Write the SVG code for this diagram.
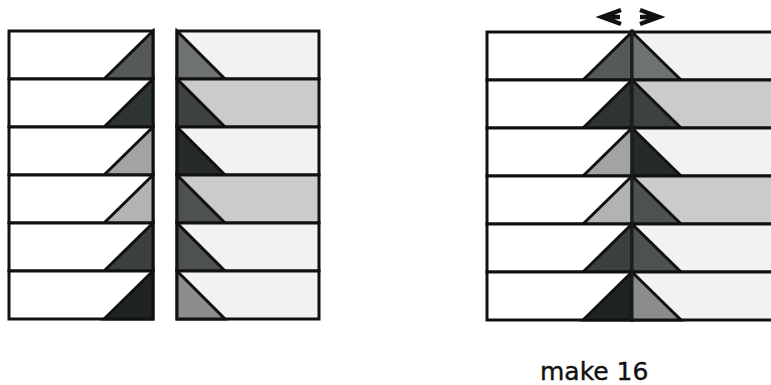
<svg xmlns="http://www.w3.org/2000/svg" width="771" height="385" viewBox="0 0 771 385">
<style>
.o{stroke:#111;stroke-width:3;stroke-linejoin:miter}
.w{fill:#fff}.lt{fill:#f2f2f2}.gy{fill:#cbcbcb}
.c1{fill:#555a57}.c2{fill:#2e3431}.c3{fill:#a3a3a3}.c4{fill:#b3b3b3}.c5{fill:#3b403d}.c6{fill:#1f2421}
.d1{fill:#6e7270}.d2{fill:#3d4240}.d3{fill:#262b28}.d4{fill:#4d5250}.d5{fill:#4d5250}.d6{fill:#8c8c8c}
.arr{fill:none;stroke:#111;stroke-width:4.5;stroke-linecap:butt;stroke-linejoin:miter}
text{font-family:"DejaVu Sans",sans-serif;font-size:25px;fill:#111;stroke:#111;stroke-width:0.4}
</style>
<rect width="771" height="385" fill="#fff"/>
<g id="left-pieces">
<g class="o">
<rect class="w" x="9" y="31" width="144" height="48"/><polygon class="c1" points="104,79 153,31 153,79"/>
<rect class="w" x="9" y="79" width="144" height="48"/><polygon class="c2" points="104,127 153,79 153,127"/>
<rect class="w" x="9" y="127" width="144" height="48"/><polygon class="c3" points="104,175 153,127 153,175"/>
<rect class="w" x="9" y="175" width="144" height="48"/><polygon class="c4" points="104,223 153,175 153,223"/>
<rect class="w" x="9" y="223" width="144" height="48"/><polygon class="c5" points="104,271 153,223 153,271"/>
<rect class="w" x="9" y="271" width="144" height="48"/><polygon class="c6" points="104,319 153,271 153,319"/>
</g>
</g>
<g id="right-pieces">
<g class="o">
<rect class="lt" x="177" y="31" width="142" height="48"/><polygon class="d1" points="177,31 225,79 177,79"/>
<rect class="gy" x="177" y="79" width="142" height="48"/><polygon class="d2" points="177,79 225,127 177,127"/>
<rect class="lt" x="177" y="127" width="142" height="48"/><polygon class="d3" points="177,127 225,175 177,175"/>
<rect class="gy" x="177" y="175" width="142" height="48"/><polygon class="d4" points="177,175 225,223 177,223"/>
<rect class="lt" x="177" y="223" width="142" height="48"/><polygon class="d5" points="177,223 225,271 177,271"/>
<rect class="lt" x="177" y="271" width="142" height="48"/><polygon class="d6" points="177,271 225,319 177,319"/>
</g>
</g>
<g id="joined-units">
<g class="o">
<rect class="w" x="487" y="32" width="145" height="48"/><rect class="lt" x="632" y="32" width="145" height="48"/>
<polygon class="c1" points="583,80 632,32 632,80"/><polygon class="d1" points="632,32 681,80 632,80"/>
<rect class="w" x="487" y="80" width="145" height="48"/><rect class="gy" x="632" y="80" width="145" height="48"/>
<polygon class="c2" points="583,128 632,80 632,128"/><polygon class="d2" points="632,80 681,128 632,128"/>
<rect class="w" x="487" y="128" width="145" height="48"/><rect class="lt" x="632" y="128" width="145" height="48"/>
<polygon class="c3" points="583,176 632,128 632,176"/><polygon class="d3" points="632,128 681,176 632,176"/>
<rect class="w" x="487" y="176" width="145" height="48"/><rect class="gy" x="632" y="176" width="145" height="48"/>
<polygon class="c4" points="583,224 632,176 632,224"/><polygon class="d4" points="632,176 681,224 632,224"/>
<rect class="w" x="487" y="224" width="145" height="48"/><rect class="lt" x="632" y="224" width="145" height="48"/>
<polygon class="c5" points="583,272 632,224 632,272"/><polygon class="d5" points="632,224 681,272 632,272"/>
<rect class="w" x="487" y="272" width="145" height="48"/><rect class="lt" x="632" y="272" width="145" height="48"/>
<polygon class="c6" points="583,320 632,272 632,320"/><polygon class="d6" points="632,272 681,320 632,320"/>
</g>
<line x1="632" y1="32" x2="632" y2="320" stroke="#1a2a22" stroke-width="1.5"/>
</g>
<g id="press-arrows">
<path class="arr" d="M621,10 L602,17 L621,24 M604,17 H620"/>
<path class="arr" d="M640,10 L659,17 L640,24 M640,17 H657"/>
</g>
<text x="540" y="380">make 16</text>
</svg>
